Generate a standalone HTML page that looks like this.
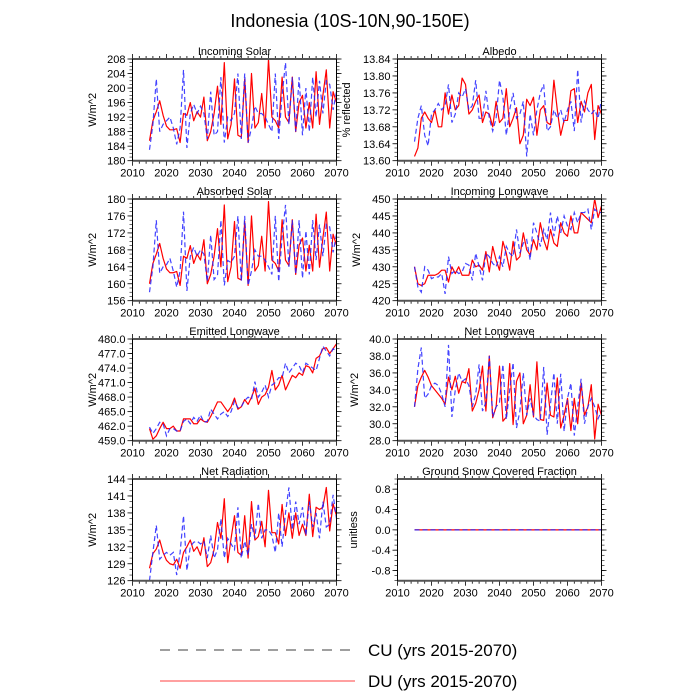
<!DOCTYPE html>
<html><head><meta charset="utf-8"><style>
html,body{margin:0;padding:0;background:#fff;}
svg{display:block;font-family:"Liberation Sans",sans-serif;}
</style></head><body>
<svg id="chart" width="700" height="700" viewBox="0 0 700 700" xmlns="http://www.w3.org/2000/svg">
<text x="350" y="27" text-anchor="middle" font-size="18">Indonesia (10S-10N,90-150E)</text>
<g id="panels"></g>
<g>
<line x1="160" y1="650" x2="355" y2="650" stroke="#000" stroke-width="0.8" stroke-dasharray="10,8"/>
<text x="368" y="656" font-size="17">CU (yrs 2015-2070)</text>
<line x1="160" y1="681" x2="355" y2="681" stroke="#ff0000" stroke-width="0.8"/>
<text x="368" y="687" font-size="17">DU (yrs 2015-2070)</text>
</g>
</svg>
<script>
const years = [2015,2016,2017,2018,2019,2020,2021,2022,2023,2024,2025,2026,2027,2028,2029,2030,2031,2032,2033,2034,2035,2036,2037,2038,2039,2040,2041,2042,2043,2044,2045,2046,2047,2048,2049,2050,2051,2052,2053,2054,2055,2056,2057,2058,2059,2060,2061,2062,2063,2064,2065,2066,2067,2068,2069,2070];
const xTicks = [2010,2020,2030,2040,2050,2060,2070];

const insolDU = [185.5,191,193.5,196.5,192.5,189.5,188.5,188.5,188.8,185,193,192.5,196,191,193.5,192,197.5,185.5,188,193,200.5,190,207,186,190,202.5,187,186.5,202.5,185,204,189,190.5,198.5,189,208,192,191,189,203,192,190.5,203,188,196,198,189,196,189,204.5,190,198,205,189,199,196];
const insolCU = [183,190,202.5,188,190,191,192,189,184.5,189,205,183.5,193,195.5,193,195,193,186,199,187,188,203,185,192,191,193,204,186,204,185,189,195,193,193,192,190,188,204,186,198,207,190,203,188,203,187,200,188,203,192,202,193,202,201,194,199];

const albDU = [13.61,13.63,13.70,13.715,13.70,13.69,13.72,13.68,13.68,13.76,13.71,13.755,13.72,13.73,13.795,13.78,13.71,13.72,13.74,13.755,13.69,13.715,13.71,13.68,13.74,13.69,13.70,13.77,13.68,13.70,13.725,13.64,13.66,13.745,13.73,13.75,13.66,13.72,13.73,13.69,13.685,13.79,13.72,13.66,13.695,13.695,13.765,13.77,13.69,13.74,13.715,13.76,13.78,13.65,13.73,13.71];
const albCU = [13.645,13.70,13.73,13.66,13.635,13.71,13.72,13.735,13.72,13.73,13.78,13.69,13.71,13.76,13.75,13.77,13.72,13.73,13.79,13.70,13.70,13.765,13.70,13.67,13.70,13.79,13.75,13.66,13.72,13.76,13.70,13.71,13.74,13.61,13.71,13.66,13.72,13.76,13.78,13.67,13.68,13.72,13.70,13.72,13.69,13.72,13.74,13.67,13.815,13.69,13.74,13.72,13.71,13.72,13.70,13.745];

const absDU = [160,164.8,167,169.5,166,163.5,162.6,162.6,162.9,159.6,166.5,166,169,164.8,167,165.6,170.4,160,162.2,166.5,173,164,178.6,160.5,164,174.7,161.3,160.9,174.7,159.6,176,163,164.3,171.2,163,179.4,165.6,164.8,163,175.1,165.6,164.3,175.1,162.2,169.1,170.8,163,169.1,163,176.4,163.9,170.8,176.9,163,171.7,169.1];
const absCU = [158,164,175,162.5,164,164.5,166,163,159.2,163,177,158.3,166.5,168.6,166.5,168,167,160.5,171.5,161,162,175,159.6,165.5,165,166.5,176,160.5,176,159.6,163,168,166.5,166.5,165.6,164,162.2,176,160.5,171,178.6,164,175,162.2,175,161.3,172.5,162.2,175,165.6,174,166.5,174,173.4,167.4,171.7];

const ilwDU = [430,425,424.5,425,427.5,427.5,427.5,428,429,429,425.5,430,428,430,427.5,427.5,427.5,432,430,430.5,429,434.5,428.5,436,432,429,437.5,434,429,437.5,432,433,440,435,433.5,438,435,443,438,435,441,437,436,443,440,439,445,440,440,446,445,444,443,450,444.5,448];
const ilwCU = [430,424,422.5,430,429,426.5,427,427,428,422,433,428,429,428,428.5,431,430.5,426,434,430,426,434,433,431,430,433,430,436,434,433,441,434,437,438,432,443,440,436,441,438,446,439,445,440,445,442,441,446,443,446,446,447,441,447,446,446];

const elwDU = [461.5,459.3,460,461.5,462.8,461.5,461.5,462,461,461,463.5,463.5,463.5,462.5,462.5,463.5,463,462.8,464,465.5,467,467,466,465,466,467.8,465.5,466,467.5,466.5,468,469.8,466.5,468,468.5,470,473.5,469.5,470.5,472.5,469.5,471,472.5,472,473,472.5,474.5,474.2,473,476,476.5,478,478.2,477,478,479];
const elwCU = [461.8,460.5,461.5,462.8,462.5,460,461.5,461.5,461,461,463,463.5,462.5,463.8,463,464.3,462.8,463,465.5,464.5,463.5,464.5,465,464,465,467.2,465.8,466,467.3,468,467.5,471.2,468,469,470.5,468,470.5,471,472,472,475,473,474,475,474.5,473,475,474.5,474,473.5,476,478.5,477.5,476.5,478,477.5];

const nlwDU = [32,34.5,35.5,36.3,35.5,34.5,34,33.5,33,32.3,35.5,34,35.6,33.6,35,34.8,36.5,31.5,32.4,34,36.8,31.5,38,30.7,32,36.8,30.3,30.8,37.1,29.9,35,36,30,31,34.6,30.8,37.3,30.5,30.4,34.8,31,30.8,35.4,29.5,31,33,29.2,33,30,34.8,31,32,34.6,28.2,32.3,31];
const nlwCU = [32,36.5,39,33,33.5,34.5,34.8,34.5,33.5,32,39.3,30.8,34,36,35,35.3,34.5,32,33.5,37,31.5,32.5,38,30.8,32,32.5,37,30.5,34,37.2,29.5,31.5,36,31,33,31,30.5,30.3,36.7,28.7,32.3,36,30,35.9,29.1,33,34.8,28.6,32,35.3,30,32,33,32,30.6,31.5];

const netDU = [128.2,130.8,131.6,133.2,131,129.6,129,128.8,129.8,128.2,131,132,133.2,131.2,132,130.5,133.6,128.5,129.2,131.5,136.3,133.5,140.5,129.2,133.5,137.5,131,130.5,137.5,130,140,133.2,133.8,136.5,132,142,134.5,134.5,132.5,139.5,134,138,133.5,138,134,136,134,141.3,133.8,139,138.6,139,142.5,134.8,139.6,137.5];
const netCU = [126,131,135.8,129.8,130.5,131,130.5,131,127,131,137.5,127.8,132,132.8,133,132.5,133,130,134,130,131.5,137,130,133.5,132.5,131.5,139,130,133,130.5,136,133.5,139.7,133.5,135,135,134,131,138,132,138,142.5,135,140,136,139,134,140,135.5,138,133.5,140,135.5,136,141.2,137];

const snowDU = [0,0,0,0,0,0,0,0,0,0,0,0,0,0,0,0,0,0,0,0,0,0,0,0,0,0,0,0,0,0,0,0,0,0,0,0,0,0,0,0,0,0,0,0,0,0,0,0,0,0,0,0,0,0,0,0];
const snowCU = [0,0,0,0,0,0,0,0,0,0,0,0,0,0,0,0,0,0,0,0,0,0,0,0,0,0,0,0,0,0,0,0,0,0,0,0,0,0,0,0,0,0,0,0,0,0,0,0,0,0,0,0,0,0,0,0];

const insolTicks = [180,184,188,192,196,200,204,208];
const albTicks = [13.60,13.64,13.68,13.72,13.76,13.80,13.84];
const absTicks = [156,160,164,168,172,176,180];
const ilwTicks = [420,425,430,435,440,445,450];
const elwTicks = [459,462,465,468,471,474,477,480];
const nlwTicks = [28,30,32,34,36,38,40];
const netTicks = [126,129,132,135,138,141,144];
const snowTicks = [-0.8,-0.4,0,0.4,0.8];

const NS = 'http://www.w3.org/2000/svg';
const root = document.getElementById('panels');
function mk(tag, attrs, parent){
  const e = document.createElementNS(NS, tag);
  for (const k in attrs) e.setAttribute(k, attrs[k]);
  parent.appendChild(e);
  return e;
}
const panels = [
  {id:'incoming-solar', title:'Incoming Solar', ylab:'W/m^2', ylx:96, x0:132.5, y0:59, du:insolDU, cu:insolCU, ticks:insolTicks, lo:180, hi:208, dec:0, minor:4},
  {id:'albedo', title:'Albedo', ylab:'% reflected', ylx:350, x0:397.5, y0:59, du:albDU, cu:albCU, ticks:albTicks, lo:13.60, hi:13.84, dec:2, minor:4},
  {id:'absorbed-solar', title:'Absorbed Solar', ylab:'W/m^2', ylx:96, x0:132.5, y0:199, du:absDU, cu:absCU, ticks:absTicks, lo:156, hi:180, dec:0, minor:4},
  {id:'incoming-longwave', title:'Incoming Longwave', ylab:'W/m^2', ylx:360, x0:397.5, y0:199, du:ilwDU, cu:ilwCU, ticks:ilwTicks, lo:420, hi:450, dec:0, minor:5},
  {id:'emitted-longwave', title:'Emitted Longwave', ylab:'W/m^2', ylx:96, x0:132.5, y0:339, du:elwDU, cu:elwCU, ticks:elwTicks, lo:459, hi:480, dec:1, minor:3},
  {id:'net-longwave', title:'Net Longwave', ylab:'W/m^2', ylx:358, x0:397.5, y0:339, du:nlwDU, cu:nlwCU, ticks:nlwTicks, lo:28, hi:40, dec:1, minor:4},
  {id:'net-radiation', title:'Net Radiation', ylab:'W/m^2', ylx:96, x0:132.5, y0:479, du:netDU, cu:netCU, ticks:netTicks, lo:126, hi:144, dec:0, minor:3},
  {id:'ground-snow', title:'Ground Snow Covered Fraction', ylab:'unitless', ylx:357, x0:397.5, y0:479, du:snowDU, cu:snowCU, ticks:snowTicks, lo:-1, hi:1, dec:1, minor:4}
];
const W = 204, H = 101.7;
panels.forEach(p => {
  const g = mk('g', {}, root);
  
  
  const xs = v => p.x0 + (v - 2010) / 60 * W;
  const ys = v => p.y0 + H - (v - p.lo) / (p.hi - p.lo) * H;
  const t = mk('text', {x: p.x0 + W/2, y: p.y0 - 4, 'text-anchor':'middle', 'font-size':'11'}, g);
  t.textContent = p.title;
  
  
  const yl = mk('text', {x:0, y:0, 'text-anchor':'middle', 'font-size':'11', transform:`translate(${p.ylx},${p.y0+H/2}) rotate(-90)`}, g);
  yl.textContent = p.ylab;
  
  
  for (let yr = 2010; yr <= 2070; yr += 2) {
    const major = xTicks.includes(yr);
    const len = major ? 5 : 3;
    const x = xs(yr);
    mk('line', {x1:x, y1:p.y0+H, x2:x, y2:p.y0+H+len, stroke:'#000', 'stroke-width':0.8}, g);
    mk('line', {x1:x, y1:p.y0, x2:x, y2:p.y0-len, stroke:'#000', 'stroke-width':0.8}, g);
  }
  xTicks.forEach(v => {
    const tl = mk('text', {x: xs(v), y: p.y0+H+16, 'text-anchor':'middle', 'font-size':'11'}, g);
    tl.textContent = v;
    
    
  });
  const step = p.ticks[1] - p.ticks[0];
  for (let i = 0; i < p.ticks.length; i++) {
    const v = p.ticks[i];
    const y = ys(v);
    mk('line', {x1:p.x0-5, y1:y, x2:p.x0, y2:y, stroke:'#000', 'stroke-width':0.8}, g);
    mk('line', {x1:p.x0+W, y1:y, x2:p.x0+W+5, y2:y, stroke:'#000', 'stroke-width':0.8}, g);
    const tl = mk('text', {x:p.x0-7, y:y+4, 'text-anchor':'end', 'font-size':'11'}, g);
    tl.textContent = v.toFixed(p.dec);
    
    
  }
  const start = p.ticks[0] - step, end = p.ticks[p.ticks.length-1] + step;
  for (let v = start; v <= end + 1e-9; v += step / p.minor) {
    if (v < p.lo - 1e-9 || v > p.hi + 1e-9) continue;
    const y = ys(v);
    mk('line', {x1:p.x0-3, y1:y, x2:p.x0, y2:y, stroke:'#000', 'stroke-width':0.6}, g);
    mk('line', {x1:p.x0+W, y1:y, x2:p.x0+W+3, y2:y, stroke:'#000', 'stroke-width':0.6}, g);
  }
  const mkPts = arr => arr.map((v,i) => xs(years[i]).toFixed(2) + ',' + ys(v).toFixed(2)).join(' ');
  const lr = mk('polyline', {points: mkPts(p.du), fill:'none', stroke:'#ff0000', 'stroke-width':1.2, 'stroke-linejoin':'round'}, g);
  
  
  const lb = mk('polyline', {points: mkPts(p.cu), fill:'none', stroke:'#2222ff', 'stroke-width':1.2, 'stroke-dasharray':'5,3', 'stroke-opacity':0.85}, g);
  
  
  mk('line', {x1:p.x0, y1:p.y0, x2:p.x0+W, y2:p.y0, stroke:'#555', 'stroke-width':2}, g);
  mk('line', {x1:p.x0, y1:p.y0+H, x2:p.x0+W, y2:p.y0+H, stroke:'#555', 'stroke-width':2}, g);
  mk('line', {x1:p.x0, y1:p.y0, x2:p.x0, y2:p.y0+H, stroke:'#000', 'stroke-width':1}, g);
  mk('line', {x1:p.x0+W, y1:p.y0, x2:p.x0+W, y2:p.y0+H, stroke:'#000', 'stroke-width':1}, g);
});
</script>
</body></html>
